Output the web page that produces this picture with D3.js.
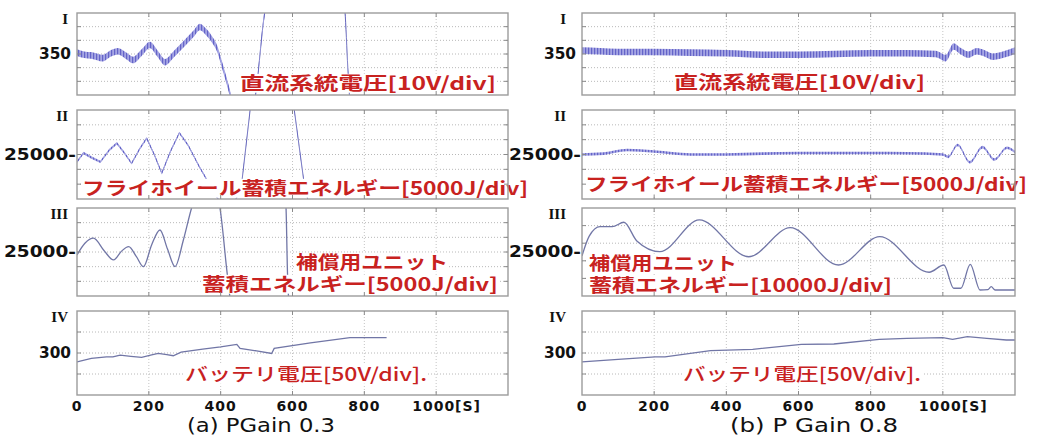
<!DOCTYPE html>
<html>
<head>
<meta charset="utf-8">
<script src="https://d3js.org/d3.v7.min.js"></script>
<style>
    body { margin: 0; background: #fff; }
    svg { display: block; }
</style>
</head>
<body>
<svg id="chart" width="1048" height="436"></svg>
<script>
// time axis [s]
const timeTicks = [0, 200, 400, 600, 800, 1000];
const timeTickLabels = ["0", "200", "400", "600", "800", "1000[S]"];

// (a) PGain 0.3  -- [time s, value], null = signal off screen
const voltA = [[0, 351], [20, 349.5], [40, 349], [72, 347], [95, 350.5], [114, 352], [135, 349], [156, 345.6],
    [180, 351], [203, 356.6], [225, 350], [245, 344], [270, 350], [300, 358], [325, 365], [342, 369.8],
    [360, 366], [375, 361], [390, 354], [406, 340], [426, 321], [440, 305], [470, 292], [496, 318],
    [523, 381], [540, 400], [730, 405], [746, 381], [754, 340], [766, 290]];
const flyA = [[0, 22500], [18, 25500], [40, 24000], [65, 22500], [90, 26500], [111, 28800], [132, 25500],
    [152, 22000], [175, 27000], [194, 30500], [215, 25000], [236, 18700], [260, 26000], [285, 32300],
    [310, 28000], [340, 21000], [370, 14700], [400, 8500], [430, 6000], [458, 14700], [482, 40000],
    [500, 46000], [590, 46000], [605, 40000], [633, 14700], [650, 6000]];
const compA = [[0, 24000], [22, 28000], [46, 29700], [75, 25500], [102, 22300], [124, 25300], [144, 26800],
    [165, 23500], [185, 20000], [208, 27500], [231, 32500], [252, 26000], [273, 20000], [296, 29000],
    [319, 40000], [335, 46000], [385, 46000], [398, 40000], [417, 18900], [430, 5000], [500, null],
    [578, 46000], [582, 40000], [586, 18000], [592, 5000]];
const battA = [[0, 279], [40, 287], [82, 291], [100, 291], [120, 295], [150, 292], [180, 289.5], [205, 295],
    [226, 299], [250, 296], [268, 293.5], [290, 302], [350, 309], [400, 314.5], [445, 320.6], [454, 311],
    [500, 305], [542, 299], [549, 311], [650, 324], [760, 336.5], [862, 336.5]];

// (b) P Gain 0.8
const voltB = [[0, 352.5], [50, 352], [100, 351.5], [200, 351.5], [300, 351], [400, 350.5], [500, 349.5],
    [600, 349.5], [700, 350], [800, 350.5], [900, 350.5], [980, 350], [1008, 347], [1030, 355.5],
    [1050, 352], [1070, 349.5], [1094, 352], [1115, 350.5], [1138, 348], [1166, 349.5], [1200, 352.5]];
const flyB = [[0, 25000], [60, 25300], [125, 26500], [200, 26000], [300, 25000], [400, 25000], [500, 25300],
    [600, 25500], [700, 25500], [800, 25500], [900, 25400], [1000, 25000], [1015, 24200], [1041, 28200],
    [1075, 22400], [1110, 27500], [1143, 23300], [1178, 27300], [1200, 25800]];
const compB = [[0, 22800], [20, 34000], [50, 39400], [84, 39400], [116, 41900], [152, 31300], [216, 25200],
    [325, 43200], [462, 22300], [577, 38800], [711, 17600], [825, 33700], [962, 13500], [1003, 17600],
    [1030, 4400], [1050, 4400], [1076, 18000], [1103, 3400], [1125, 3600], [1134, 5300], [1145, 3400],
    [1200, 3400]];
const battB = [[0, 279], [100, 285], [203, 291], [230, 291], [356, 305.5], [473, 308.7], [608, 320.7],
    [698, 321.4], [824, 332.5], [900, 335], [1000, 336.4], [1027, 332.5], [1068, 338.8], [1122, 335],
    [1176, 331], [1200, 331]];

const captions = ["(a) PGain 0.3", "(b) P Gain 0.8"];

const RED = "#c8221f";
const svg = d3.select("#chart");

// ripple texture for the noisy traces
const pat = svg.append("defs").append("pattern")
    .attr("id", "ripple").attr("width", 3).attr("height", 8)
    .attr("patternUnits", "userSpaceOnUse");
pat.append("rect").attr("width", 3).attr("height", 8).attr("fill", "#a6a6e4");
pat.append("rect").attr("width", 1.2).attr("height", 8).attr("fill", "#6464c8");

const cols = [{ x0: 77, x1: 508 }, { x0: 582, x1: 1015 }];
const rows = [{ y0: 13, y1: 95 }, { y0: 110, y1: 199 }, { y0: 208, y1: 296 }, { y0: 311, y1: 395 }];
const numerals = ["I", "II", "III", "IV"];

const panels = [
    { col: 0, row: 0, data: voltA, domain: [320, 380], step: 10, tick: 350, tickText: "350", band: 3.3, curve: d3.curveMonotoneX,
      labels: [{ t: "直流系統電圧[10V/div]", x: 240, y: 90, w: 256 }] },
    { col: 0, row: 1, data: flyA, domain: [10000, 40000], step: 5000, tick: 25000, tickText: "25000-", band: 1.2, curve: d3.curveLinear,
      labels: [{ t: "フライホイール蓄積エネルギー[5000J/div]", x: 82, y: 195, w: 446 }] },
    { col: 0, row: 2, data: compA, domain: [10000, 40000], step: 5000, tick: 25000, tickText: "25000-", band: 0, curve: d3.curveMonotoneX,
      labels: [{ t: "補償用ユニット", x: 296, y: 269, w: 152 }, { t: "蓄積エネルギー[5000J/div]", x: 202, y: 291, w: 296 }] },
    { col: 0, row: 3, data: battA, domain: [200, 400], step: 50, tick: 300, tickText: "300", band: 0, curve: d3.curveLinear,
      labels: [{ t: "バッテリ電圧[50V/div].", x: 185, y: 381, w: 242, thin: true }] },
    { col: 1, row: 0, data: voltB, domain: [320, 380], step: 10, tick: 350, tickText: "350", band: 3.3, curve: d3.curveMonotoneX,
      labels: [{ t: "直流系統電圧[10V/div]", x: 674, y: 89, w: 251 }] },
    { col: 1, row: 1, data: flyB, domain: [10000, 40000], step: 5000, tick: 25000, tickText: "25000-", band: 1.3, curve: d3.curveMonotoneX,
      labels: [{ t: "フライホイール蓄積エネルギー[5000J/div]", x: 585, y: 191, w: 442 }] },
    { col: 1, row: 2, data: compB, domain: [0, 50000], step: 10000, tick: 25000, tickText: "25000-", band: 0, curve: d3.curveMonotoneX,
      labels: [{ t: "補償用ユニット", x: 589, y: 270, w: 148 }, { t: "蓄積エネルギー[10000J/div]", x: 589, y: 292, w: 303 }] },
    { col: 1, row: 3, data: battB, domain: [200, 400], step: 50, tick: 300, tickText: "300", band: 0, curve: d3.curveLinear,
      labels: [{ t: "バッテリ電圧[50V/div].", x: 683, y: 381, w: 238, thin: true }] }
];

panels.forEach((p, i) => {
    const c = cols[p.col], r = rows[p.row];
    const x = d3.scaleLinear().domain([0, 1200]).range([c.x0, c.x1]);
    const y = d3.scaleLinear().domain(p.domain).range([r.y1, r.y0]);
    const g = svg.append("g");

    g.append("clipPath").attr("id", "clip" + i)
        .append("rect").attr("x", c.x0).attr("y", r.y0).attr("width", c.x1 - c.x0).attr("height", r.y1 - r.y0);

    // grid
    const hVals = d3.range(p.domain[0] + p.step, p.domain[1], p.step);
    const vVals = timeTicks.slice(1);
    g.selectAll(".h").data(hVals).join("line")
        .attr("x1", c.x0).attr("x2", c.x1).attr("y1", d => y(d)).attr("y2", d => y(d))
        .attr("stroke", "#b8b8b8").attr("stroke-width", 1).attr("stroke-dasharray", "1,2");
    g.selectAll(".v").data(vVals).join("line")
        .attr("y1", r.y0).attr("y2", r.y1).attr("x1", d => x(d)).attr("x2", d => x(d))
        .attr("stroke", "#c4c4c4").attr("stroke-width", 1).attr("stroke-dasharray", "1,2");

    // trace
    const plot = g.append("g").attr("clip-path", `url(#clip${i})`);
    const line = d3.line().defined(d => d[1] !== null)
        .x(d => x(d[0])).y(d => y(d[1])).curve(p.curve);
    plot.append("path").attr("d", line(p.data)).attr("fill", "none")
        .attr("stroke", p.band ? "#6a6cb8" : "#7176a6").attr("stroke-width", p.band ? 1 : 1.3);
    if (p.band) {
        const area = d3.area().defined(d => d[1] !== null)
            .x(d => x(d[0])).y0(d => y(d[1]) - p.band).y1(d => y(d[1]) + p.band).curve(p.curve);
        plot.append("path").attr("d", area(p.data)).attr("fill", "url(#ripple)");
    }

    // labels with white backing (multi-line labels are one text with tspans)
    const fs = 18;
    const lg = g.append("g");
    p.labels.forEach(l => {
        lg.append("rect").attr("x", l.x - 1).attr("y", l.y - fs * 0.9).attr("width", l.w + 2)
            .attr("height", fs * 1.05).attr("fill", "#fff");
    });
    const txt = lg.append("text")
        .attr("font-family", "'Noto Sans CJK JP', sans-serif")
        .attr("font-size", fs).attr("font-weight", p.labels[0].thin ? 500 : 700)
        .attr("fill", RED);
    p.labels.forEach(l => {
        txt.append("tspan").attr("x", l.x).attr("y", l.y)
            .attr("textLength", l.w).attr("lengthAdjust", "spacingAndGlyphs")
            .text(l.t);
    });

    // frame and inner ticks
    g.append("rect").attr("x", c.x0).attr("y", r.y0).attr("width", c.x1 - c.x0).attr("height", r.y1 - r.y0)
        .attr("fill", "none").attr("stroke", "#9c9c9c").attr("stroke-width", 1.4);
    const tk = "#8a8a8a";
    vVals.forEach(v => {
        g.append("line").attr("x1", x(v)).attr("x2", x(v)).attr("y1", r.y1).attr("y2", r.y1 - 4).attr("stroke", tk);
        g.append("line").attr("x1", x(v)).attr("x2", x(v)).attr("y1", r.y0).attr("y2", r.y0 + 4).attr("stroke", tk);
    });
    hVals.forEach(v => {
        g.append("line").attr("x1", c.x0).attr("x2", c.x0 + 4).attr("y1", y(v)).attr("y2", y(v)).attr("stroke", tk);
        g.append("line").attr("x1", c.x1).attr("x2", c.x1 - 4).attr("y1", y(v)).attr("y2", y(v)).attr("stroke", tk);
    });

    // y tick label and numeral
    const dash = p.tickText.endsWith("-");
    g.append("text").attr("x", dash ? c.x0 - 1 : c.x0 - 6).attr("y", y(p.tick)).attr("dy", "0.36em")
        .attr("text-anchor", "end").attr("font-family", "'DejaVu Sans', sans-serif")
        .attr("font-weight", "bold").attr("font-size", 15)
        .attr("textLength", dash ? 72 : 32).attr("lengthAdjust", "spacingAndGlyphs")
        .attr("fill", "#111").text(p.tickText);
    g.append("text").attr("x", c.x0 - (p.col ? 16 : 9)).attr("y", r.y0 + 11)
        .attr("text-anchor", "end").attr("font-family", "'Liberation Serif', serif")
        .attr("font-weight", "bold").attr("font-size", 15).attr("fill", "#111")
        .text(numerals[p.row]);
});

// time axis labels and captions
cols.forEach((c, ci) => {
    const x = d3.scaleLinear().domain([0, 1200]).range([c.x0, c.x1]);
    svg.append("g").selectAll("text").data(timeTicks).join("text")
        .attr("x", (d, i) => i === timeTicks.length - 1 ? x(d) - 24 : x(d))
        .attr("y", 411)
        .attr("text-anchor", (d, i) => i === timeTicks.length - 1 ? "start" : "middle")
        .attr("font-family", "'DejaVu Sans', sans-serif").attr("font-weight", "bold")
        .attr("font-size", 14).attr("letter-spacing", 1).attr("fill", "#111")
        .text((d, i) => timeTickLabels[i]);
    svg.append("text").attr("x", ci ? 730 : 187).attr("y", 432)
        .attr("font-family", "'DejaVu Sans', sans-serif").attr("font-size", 19).attr("fill", "#111")
        .attr("textLength", ci ? 168 : 148).attr("lengthAdjust", "spacingAndGlyphs")
        .text(captions[ci]);
});
</script>
</body>
</html>
